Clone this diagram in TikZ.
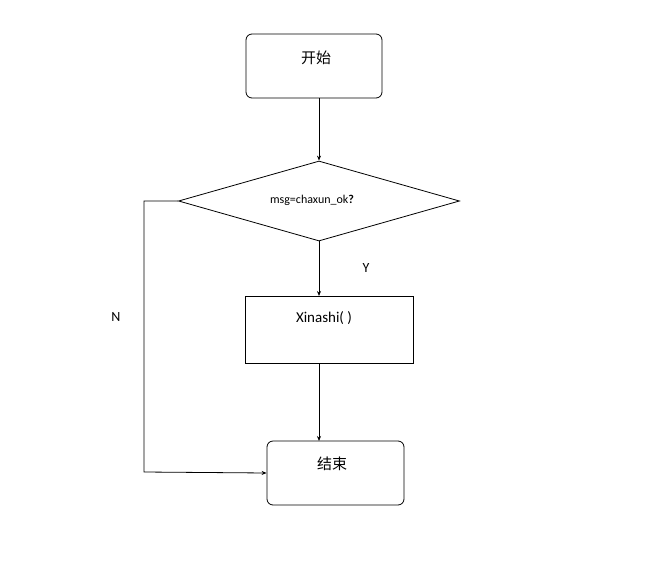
\documentclass[tikz,border=0pt]{standalone}
\usepackage{fontspec}
\setmainfont{Carlito}
\newfontfamily\cjk{Noto Sans CJK SC}
\usetikzlibrary{shapes.geometric,arrows.meta}
\begin{document}
\begin{tikzpicture}[x=1pt,y=-1pt,
  box/.style={draw,thick,minimum width=136pt,minimum height=64pt,font=\fontsize{15}{18}\selectfont},
  arr/.style={thick,-{Stealth[length=5pt,width=4pt]}},
  lbl/.style={font=\fontsize{14}{16}\selectfont}]
\useasboundingbox (0,0) rectangle (653,562);
\node[box,rounded corners=6pt] (start) at (314,66) {};
\node[font=\fontsize{15}{18}\selectfont] at (316,58) {\cjk 开始};
\node[draw,thick,diamond,aspect=3.5,minimum width=281pt,minimum height=80pt,inner sep=0pt,font=\fontsize{12}{14}\selectfont] (dec) at (319,201) {};
\node[font=\fontsize{12}{14}\selectfont] at (312,200) {msg=chaxun\_ok\textbf{?}};
\node[box,rectangle,minimum width=168pt,minimum height=67pt,anchor=center] (xin) at (329,329.5) {};
\node[font=\fontsize{15}{18}\selectfont] at (324,318) {Xinashi( )};
\node[box,rounded corners=6pt,minimum width=137pt] (end) at (335.5,473) {};
\node[font=\fontsize{15}{18}\selectfont] at (332,464) {\cjk 结束};
\coordinate (a) at (319,98);
\draw[arr] (a) -- (dec.north);
\draw[arr] (dec.south) -- (319,296);
\draw[arr] (319,363) -- (319,441);
\draw[arr] (dec.west) -- (144,201) -- (144,472) -- (end.west);
\node[lbl] at (366,268) {Y};
\node[lbl] at (116,317) {N};
\end{tikzpicture}
\end{document}
